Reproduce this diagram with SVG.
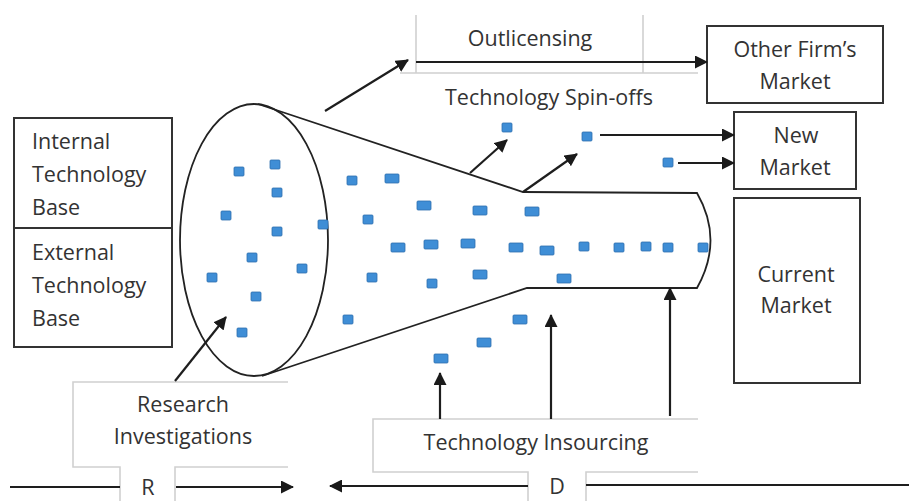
<svg xmlns="http://www.w3.org/2000/svg" width="909" height="501" viewBox="0 0 909 501">
<defs>
<marker id="ahs" markerWidth="13" markerHeight="13" refX="12" refY="6.5" orient="auto" markerUnits="userSpaceOnUse">
<path d="M0,0 L13,6.5 L0,13 Z" fill="#1a1a1a"/>
</marker>
</defs>
<style>
.t{font-family:"Open Sans","Liberation Sans",sans-serif;font-size:21.5px;fill:#333}
.c{text-anchor:middle}
.box{fill:#fff;stroke:#333;stroke-width:2}
.gray{fill:none;stroke:#d0d0d0;stroke-width:1.6}
.ln{fill:none;stroke:#1e1e1e;stroke-width:2.2}
.ar{fill:none;stroke:#1e1e1e;stroke-width:2.2;marker-end:url(#ahs)}
.sq{fill:#3f8ed6;stroke:#2f6fae;stroke-width:0.8}
</style>
<rect width="909" height="501" fill="#fff"/>

<g id="funnel">
<ellipse cx="254" cy="240" rx="74" ry="136" fill="none" stroke="#222" stroke-width="1.8"/>
<path d="M258,104 L523,192 L697,193 Q724,240 697,288 L527,288 L262,376" fill="none" stroke="#222" stroke-width="1.8"/>
</g>

<g id="internal-tech">
<rect class="box" x="14" y="118" width="158" height="110"/>
<text class="t" x="32" y="149">Internal</text>
<text class="t" x="32" y="182">Technology</text>
<text class="t" x="32" y="215">Base</text>
</g>
<g id="external-tech">
<rect class="box" x="14" y="228" width="158" height="119"/>
<text class="t" x="32" y="260">External</text>
<text class="t" x="32" y="293">Technology</text>
<text class="t" x="32" y="326">Base</text>
</g>

<g id="outlicensing">
<path class="gray" d="M416,15 V73 M643,15 V73 M400,73 H698"/>
<text class="t c" x="530" y="46">Outlicensing</text>
</g>
<g id="spinoffs">
<text class="t c" x="549" y="105">Technology Spin-offs</text>
</g>

<g id="other-firm">
<rect class="box" x="707" y="26" width="176" height="77"/>
<text class="t c" x="795" y="57">Other Firm’s</text>
<text class="t c" x="795" y="89">Market</text>
</g>
<g id="new-market">
<rect class="box" x="734" y="112" width="122" height="77"/>
<text class="t c" x="796" y="143">New</text>
<text class="t c" x="795" y="175">Market</text>
</g>
<g id="current-market">
<rect class="box" x="734" y="198" width="126" height="185"/>
<text class="t c" x="796" y="282">Current</text>
<text class="t c" x="796" y="313">Market</text>
</g>

<g id="research">
<path class="gray" d="M288,382 H73 V467 H120 V501 M175,501 V467 H288"/>
<text class="t c" x="183" y="412">Research</text>
<text class="t c" x="183" y="444">Investigations</text>
<text class="t c" x="148" y="495">R</text>
</g>
<g id="insourcing">
<path class="gray" d="M698,419 H373 V472 H528 V501 M586,501 V472 H698"/>
<text class="t c" x="536" y="450">Technology Insourcing</text>
<text class="t c" x="557" y="494">D</text>
</g>

<g id="squares">
<rect class="sq" x="234" y="167" width="10" height="9" rx="1"/>
<rect class="sq" x="270" y="160" width="10" height="9" rx="1"/>
<rect class="sq" x="272" y="188" width="10" height="9" rx="1"/>
<rect class="sq" x="221" y="211" width="10" height="9" rx="1"/>
<rect class="sq" x="272" y="227" width="10" height="9" rx="1"/>
<rect class="sq" x="247" y="253" width="10" height="9" rx="1"/>
<rect class="sq" x="207" y="273" width="10" height="9" rx="1"/>
<rect class="sq" x="251" y="292" width="10" height="9" rx="1"/>
<rect class="sq" x="237" y="328" width="10" height="9" rx="1"/>
<rect class="sq" x="297" y="264" width="10" height="9" rx="1"/>
<rect class="sq" x="318" y="220" width="10" height="9" rx="1"/>

<rect class="sq" x="347" y="176" width="10" height="9" rx="1"/>
<rect class="sq" x="385" y="174" width="14" height="9" rx="1"/>
<rect class="sq" x="363" y="215" width="10" height="9" rx="1"/>
<rect class="sq" x="417" y="201" width="14" height="9" rx="1"/>
<rect class="sq" x="473" y="206" width="14" height="9" rx="1"/>
<rect class="sq" x="525" y="207" width="14" height="9" rx="1"/>
<rect class="sq" x="391" y="243" width="14" height="9" rx="1"/>
<rect class="sq" x="424" y="240" width="14" height="9" rx="1"/>
<rect class="sq" x="461" y="239" width="14" height="9" rx="1"/>
<rect class="sq" x="509" y="243" width="14" height="9" rx="1"/>
<rect class="sq" x="540" y="246" width="14" height="9" rx="1"/>
<rect class="sq" x="579" y="242" width="10" height="9" rx="1"/>
<rect class="sq" x="614" y="243" width="10" height="9" rx="1"/>
<rect class="sq" x="641" y="242" width="10" height="9" rx="1"/>
<rect class="sq" x="663" y="243" width="10" height="9" rx="1"/>
<rect class="sq" x="698" y="243" width="10" height="9" rx="1"/>
<rect class="sq" x="367" y="273" width="10" height="9" rx="1"/>
<rect class="sq" x="427" y="279" width="10" height="9" rx="1"/>
<rect class="sq" x="473" y="270" width="14" height="9" rx="1"/>
<rect class="sq" x="557" y="274" width="14" height="9" rx="1"/>
<rect class="sq" x="343" y="315" width="10" height="9" rx="1"/>
<rect class="sq" x="513" y="315" width="14" height="9" rx="1"/>
<rect class="sq" x="477" y="338" width="14" height="9" rx="1"/>
<rect class="sq" x="434" y="354" width="14" height="9" rx="1"/>

<rect class="sq" x="502" y="123" width="10" height="9" rx="1"/>
<rect class="sq" x="582" y="132" width="10" height="9" rx="1"/>
<rect class="sq" x="663" y="158" width="10" height="9" rx="1"/>
</g>

<g id="connectors">
<line class="ar" x1="325" y1="111" x2="408" y2="60"/>
<line class="ar" x1="416" y1="62" x2="707" y2="62"/>
<line class="ar" x1="470" y1="173" x2="507" y2="140"/>
<line class="ar" x1="523" y1="192" x2="577" y2="154"/>
<line class="ar" x1="600" y1="135" x2="734" y2="135"/>
<line class="ar" x1="678" y1="163" x2="734" y2="163"/>
<line class="ar" x1="175" y1="381" x2="226" y2="317"/>
<line class="ar" x1="440" y1="419" x2="440" y2="373"/>
<line class="ar" x1="551" y1="419" x2="551" y2="315"/>
<line class="ar" x1="670" y1="416" x2="670" y2="288"/>
<line class="ln" x1="10" y1="487" x2="120" y2="487"/>
<line class="ar" x1="176" y1="487" x2="293" y2="487"/>
<line class="ar" x1="528" y1="486" x2="330" y2="486"/>
<line class="ln" x1="586" y1="485" x2="909" y2="485"/>
</g>
</svg>
